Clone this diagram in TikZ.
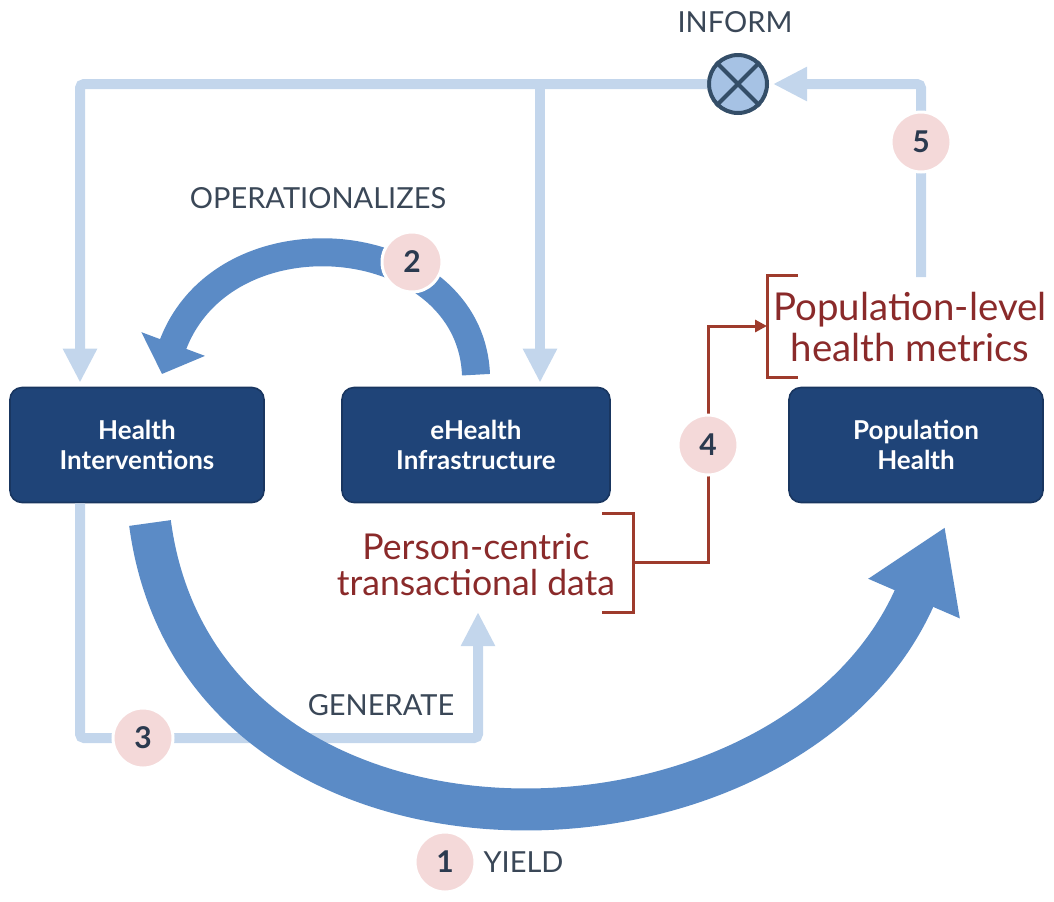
\documentclass[tikz,border=0pt]{standalone}
\usepackage{fontspec}
\setmainfont{Lato}
\usetikzlibrary{arrows.meta}

\definecolor{boxblue}{HTML}{1F4478}
\definecolor{paleblue}{HTML}{C3D6EC}
\definecolor{arcblue}{HTML}{5B8BC6}
\definecolor{dotpink}{HTML}{F4D9D9}
\definecolor{darkred}{HTML}{8A2A2A}
\definecolor{linered}{HTML}{9E3B2C}
\definecolor{infofill}{HTML}{A6C2E4}
\definecolor{inforim}{HTML}{344E68}
\definecolor{labelgray}{HTML}{3A4757}
\definecolor{numgray}{HTML}{2B3A4F}

\tikzset{
  box/.style={rectangle, rounded corners=6pt, fill=boxblue, draw=boxblue!80!black,
    line width=0.8pt, text=white, align=center, minimum width=127pt,
    minimum height=57.5pt, font=\bfseries\fontsize{13}{15}\selectfont},
  datatxt/.style={text=darkred, align=center, font=\fontsize{17.8}{18}\selectfont},
  verb/.style={text=labelgray, font=\fontsize{14.5}{16}\selectfont},
  num/.style={circle, fill=dotpink, draw=white, line width=1.5pt, minimum size=30pt,
    inner sep=0pt, text=numgray, font=\bfseries\fontsize{15}{15}\selectfont},
  feed/.style={draw=paleblue, line width=5pt, rounded corners=2pt,
    -{Triangle[length=17pt, width=16pt]}},
  yieldarc/.style={draw=arcblue, line width=21pt, -{Triangle[length=39pt, width=47pt]}},
  oparc/.style={draw=arcblue, line width=14pt, -{Triangle[length=16pt, width=33pt]}},
  datalink/.style={draw=linered, line width=1.5pt, -{Triangle[length=6pt, width=6pt]}},
  bracket/.style={draw=linered, line width=1.5pt}
}

\begin{document}
\begin{tikzpicture}[x=0.5pt, y=-0.5pt]
\useasboundingbox (0,0) rectangle (1054,901);

% step markers
\foreach \n/\x/\y in {1/445/862, 2/412/262, 3/143/738, 4/708/445, 5/921/142}
  \coordinate (c\n) at (\x,\y);

\node[box] (hi) at (137,445) {Health\\Interventions};
\node[box, minimum width=134pt] (eh) at (476,445) {eHealth\\Infrastructure};
\node[box] (ph) at (916,445) {Population\\Health};

\node[circle, fill=infofill, draw=inforim, line width=2pt, minimum size=29pt] (inform) at (738,84) {};
\draw[inforim, line width=2pt] (inform.north west) -- (inform.south east)
  (inform.north east) -- (inform.south west);

\coordinate (tl) at (80,84);
\coordinate (tr) at (540,84);
\coordinate (p5) at (921,277);
\coordinate (gc) at (478,738);
\coordinate (gt) at (478,612);

% feedback lines
\draw[feed] (inform.west) -| ([yshift=2pt]hi.north -| tl);
\draw[feed] (tr) -- ([yshift=2pt]eh.north -| tr);
\draw[feed, shorten >=2pt] (p5) |- (inform.east);
\draw[feed] (hi.south -| tl) |- (gc) -- (gt);

% big arcs
\coordinate (ys) at (150,523);
\coordinate (ye) at (945,527);
\draw[yieldarc] (ys) .. controls (200,900) and (790,885) .. (ye);
\draw[oparc] ([yshift=6pt]eh.north) .. controls (470,230) and (225,205) .. (162,374);

% data texts and brackets
\node[datatxt] (pcd) at (476,565) {Person-centric\\transactional data};
\node[datatxt, font=\fontsize{19.2}{20.5}\selectfont] (plm) at (910,327) {Population-level\\health metrics};
\draw[bracket] (602,513) -- (633,513) -- (633,612) -- (602,612);
\draw[bracket] (798,275) -- (767,275) -- (767,377) -- (798,377);
\coordinate (bk1) at (633,562);
\coordinate (bk2) at (767,326);
\draw[datalink] (bk1) -| (c4) |- (bk2);

\foreach \n in {1,...,5}
  \node[num] (n\n) at (c\n) {\n};

\node[verb] (lblinf) at (735,22) {INFORM};
\node[verb] (lblop) at (318,198) {OPERATIONALIZES};
\node[verb] (lblgen) at (381,705) {GENERATE};
\node[verb, anchor=west] (lblyld) at (n1.east) {YIELD};

\end{tikzpicture}
\end{document}
